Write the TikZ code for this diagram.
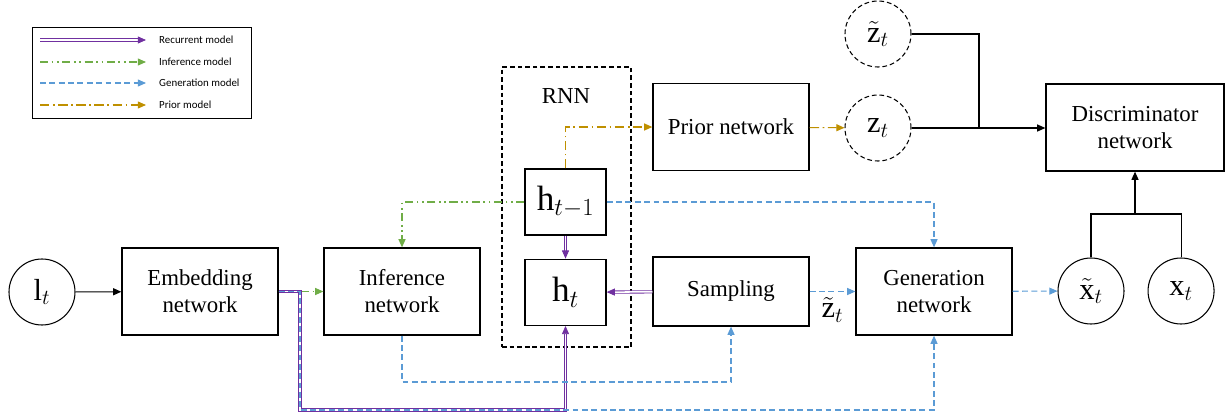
\documentclass[tikz,border=0pt]{standalone}
\usepackage{fix-cm}
\usepackage{fontspec}
\setmainfont{Liberation Serif}
\newfontfamily\legfont{Carlito}
\usetikzlibrary{arrows.meta,positioning}

\definecolor{recurcol}{RGB}{112,48,160}
\definecolor{infercol}{RGB}{112,173,71}
\definecolor{gencol}{RGB}{91,155,213}
\definecolor{priorcol}{RGB}{191,144,0}

\tikzset{
  block/.style={draw, line width=1.1pt, minimum width=4.68cm, minimum height=2.61cm,
    align=center, font=\fontsize{19.5}{23}\selectfont},
  hbox/.style={draw, line width=1.1pt, minimum width=2.43cm, minimum height=1.98cm,
    font=\fontsize{30}{36}\selectfont},
  var/.style={draw, circle, line width=0.9pt, minimum size=1.98cm, inner sep=0pt,
    font=\fontsize{26}{30}\selectfont},
  latent/.style={var, dash pattern=on 4pt off 2.5pt},
  tip/.style={-{Triangle[length=7pt,width=6pt]}},
  plain/.style={tip, line width=0.9pt},
  recur/.style={tip, draw=recurcol, line width=0.7pt, double=white, double distance=1.3pt},
  infer/.style={tip, draw=infercol, line width=0.9pt,
    dash pattern=on 7pt off 3pt on 1.5pt off 3pt on 1.5pt off 3pt},
  gen/.style={tip, draw=gencol, line width=0.9pt, dash pattern=on 5pt off 3pt},
  prior/.style={tip, draw=priorcol, line width=0.9pt,
    dash pattern=on 8pt off 3pt on 1.5pt off 3pt},
  legtext/.style={anchor=west, inner sep=0pt, font=\legfont\fontsize{9.3}{11}\selectfont}
}

\begin{document}
\begin{tikzpicture}[x=0.03cm,y=-0.03cm]

  \useasboundingbox (0,0) rectangle (1228,420);

  % legend
  \node[draw, line width=0.6pt, minimum width=6.57cm, minimum height=2.73cm] (legend) at (141.5,72.5) {};
  \coordinate (ra) at (40,40);  \coordinate (rb) at (146,40);
  \coordinate (ia) at (40,62);  \coordinate (ib) at (146,62);
  \coordinate (ga) at (40,83);  \coordinate (gb) at (146,83);
  \coordinate (pa) at (40,105); \coordinate (pb) at (146,105);
  \draw[recur] (ra) -- (rb);
  \draw[infer] (ia) -- (ib);
  \draw[gen] (ga) -- (gb);
  \draw[prior] (pa) -- (pb);
  \node[legtext] (rtext) at (159,40) {Recurrent model};
  \node[legtext] (itext) at (159,62) {Inference model};
  \node[legtext] (gtext) at (159,83) {Generation model};
  \node[legtext] (ptext) at (159,105) {Prior model};

  % nodes
  \node[var] (lt) at (42,292) {$\mathrm{l}_t$};
  \node[block] (embed) at (200,291.5) {Embedding\\network};
  \node[block] (infer) at (402,291.5) {Inference\\network};
  \node[draw, dash pattern=on 4pt off 2.5pt, line width=0.9pt, minimum width=3.87cm, minimum height=8.4cm] (rnn) at (566.5,207) {};
  \node[font=\fontsize{19.5}{23}\selectfont] (rnnlabel) at (566,96) {RNN};
  \node[hbox] (hprev) at (565.5,202) {$\mathrm{h}_{t-1}$};
  \node[hbox, below=0.69cm of hprev] (hcur) {$\mathrm{h}_t$};
  \node[block] (prior) at (731,127) {Prior network};
  \node[block, minimum height=2.07cm] (sampl) at (731,291.5) {Sampling};
  \node[block] (gen) at (934,291.5) {Generation\\network};
  \node[latent] (ztil) at (878,34) {$\tilde{\mathrm{z}}_t$};
  \node[latent] (zt) at (878,128) {$\mathrm{z}_t$};
  \node[block, minimum width=5.34cm] (disc) at (1135,127.5) {Discriminator\\network};
  \node[var] (xtil) at (1091,291) {$\tilde{\mathrm{x}}_t$};
  \node[var, right=0.69cm of xtil] (xt) {$\mathrm{x}_t$};

  \coordinate (zjoin) at (979,128);
  \coordinate (xjoin) at (1135,214);
  \coordinate (ebot) at (300,410);
  \coordinate (ibot) at (402,382);

  % connectors
  \draw[plain] (lt) -- (embed);
  \draw[line width=0.9pt] (ztil.east) -| (zjoin);
  \draw[plain] (zt.east) -- (zt.east -| disc.west);
  \draw[line width=0.9pt] (xtil.north) |- (xjoin) -| (xt.north);
  \draw[plain] (xjoin) -- (disc.south);

  \draw[infer] (embed.east) -- (infer.west);
  \draw[infer] (hprev.west) -| (infer.north);

  \draw[recur] (embed.east) -| (ebot) -| (hcur.south);
  \draw[recur] (hprev) -- (hcur);
  \draw[recur] (sampl) -- (hcur);

  \draw[gen] (embed.east) -| (ebot) -| (gen.south);
  \draw[gen] (infer.south) -- (ibot) -| (sampl.south);
  \draw[gen] (hprev.east) -| (gen.north);
  \draw[gen] (sampl) -- node[below=1pt, font=\fontsize{26}{30}\selectfont] (zlabel) {$\tilde{\mathrm{z}}_t$} (gen);
  \draw[gen] (gen) -- (xtil);

  \draw[prior] (hprev.north) |- (prior.west);
  \draw[prior] (prior) -- (zt);

\end{tikzpicture}
\end{document}
